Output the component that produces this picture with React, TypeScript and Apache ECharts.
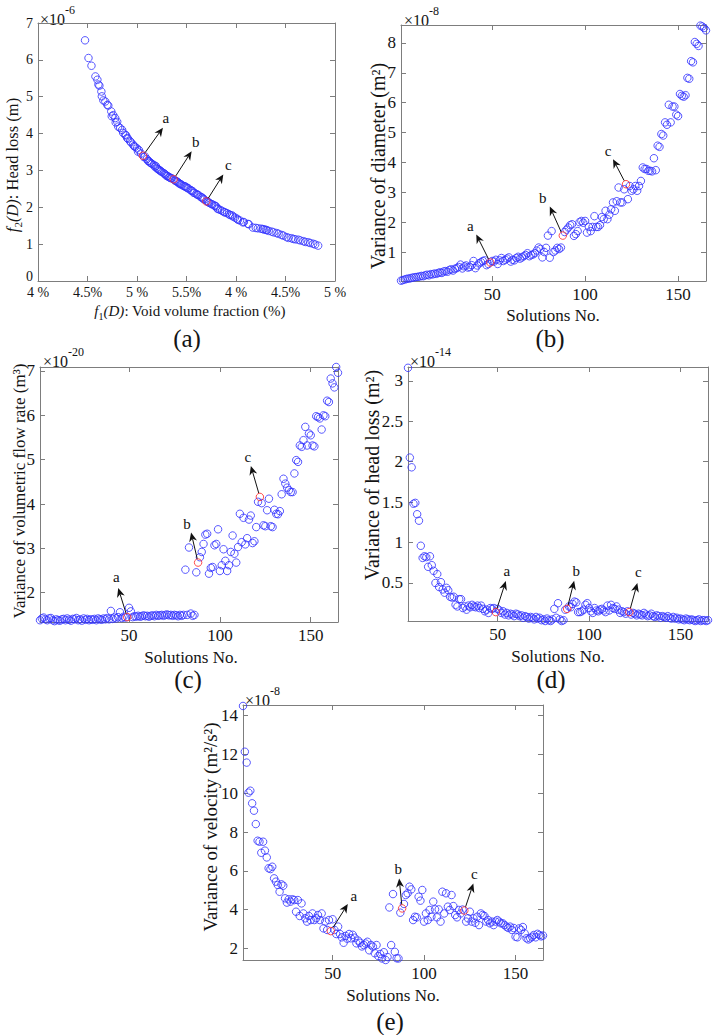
import React, { useEffect, useRef } from "react";
import * as echarts from "echarts";

// ---------------- DATA ----------------
// Panel (a): Pareto front
const VOID_FRACTION = [
  4.475, 4.51, 4.54, 4.58, 4.6, 4.61, 4.62, 4.64, 4.645, 4.66, 4.68, 4.7, 4.71, 4.74, 4.745, 4.76, 4.78, 4.785, 4.8, 4.81,
  4.83, 4.85, 4.86, 4.88, 4.89, 4.9, 4.91, 4.93, 4.94, 4.96, 4.97, 4.98, 5.0, 5.01, 5.02, 5.04, 5.06, 5.07, 5.08, 5.1,
  5.11, 5.12, 5.13, 5.14, 5.15, 5.17, 5.18, 5.19, 5.2, 5.21, 5.22, 5.23, 5.24, 5.25, 5.27, 5.28, 5.29, 5.3, 5.31, 5.32,
  5.33, 5.34, 5.35, 5.37, 5.38, 5.39, 5.4, 5.41, 5.42, 5.43, 5.44, 5.45, 5.47, 5.48, 5.49, 5.5, 5.51, 5.52, 5.54, 5.55,
  5.56, 5.57, 5.58, 5.6, 5.61, 5.62, 5.64, 5.65, 5.66, 5.67, 5.68, 5.7, 5.71, 5.72, 5.73, 5.75, 5.76, 5.78, 5.79, 5.8,
  5.81, 5.82, 5.84, 5.86, 5.88, 5.89, 5.91, 5.93, 5.94, 5.96, 5.97, 5.99, 6.01, 6.02, 6.04, 6.07, 6.08, 6.12, 6.13, 6.17,
  6.2, 6.22, 6.25, 6.27, 6.28, 6.3, 6.31, 6.33, 6.36, 6.38, 6.41, 6.43, 6.46, 6.48, 6.51, 6.53, 6.56, 6.58, 6.6, 6.63,
  6.65, 6.68, 6.7, 6.73, 6.75, 6.78, 6.8, 6.83,
];
const HEAD_LOSS = [
  6.53, 6.05, 5.84, 5.55, 5.46, 5.33, 5.3, 5.14, 5.01, 4.9, 4.87, 4.78, 4.76, 4.6, 4.47, 4.5, 4.42, 4.3, 4.32, 4.19,
  4.15, 4.1, 4.02, 3.97, 3.95, 3.88, 3.86, 3.79, 3.76, 3.7, 3.66, 3.64, 3.6, 3.51, 3.55, 3.46, 3.4, 3.36, 3.38, 3.31,
  3.26, 3.25, 3.22, 3.2, 3.18, 3.15, 3.1, 3.12, 3.06, 3.04, 3.02, 3.0, 2.98, 2.96, 2.93, 2.9, 2.88, 2.85, 2.85, 2.82,
  2.81, 2.79, 2.79, 2.76, 2.73, 2.72, 2.7, 2.69, 2.66, 2.64, 2.63, 2.61, 2.58, 2.57, 2.56, 2.54, 2.52, 2.51, 2.47, 2.45,
  2.44, 2.4, 2.39, 2.36, 2.34, 2.33, 2.29, 2.27, 2.26, 2.23, 2.21, 2.16, 2.16, 2.14, 2.12, 2.09, 2.08, 2.05, 2.04, 2.02,
  1.97, 1.95, 1.93, 1.9, 1.87, 1.86, 1.84, 1.81, 1.79, 1.78, 1.75, 1.72, 1.69, 1.66, 1.64, 1.59, 1.6, 1.55, 1.54, 1.45,
  1.44, 1.43, 1.42, 1.41, 1.4, 1.39, 1.38, 1.36, 1.34, 1.32, 1.3, 1.28, 1.25, 1.23, 1.19, 1.17, 1.16, 1.14, 1.13, 1.12,
  1.1, 1.08, 1.06, 1.05, 1.03, 1.01, 0.99, 0.96,
];
const MARKED_VOID = [5.06, 5.37, 5.7];
const MARKED_HEAD = [3.4, 2.76, 2.16];
const VOID_TICK_LABELS = ["4 %", "4.5%", "5 %", "5.5%", "4 %", "4.5%", "5 %"];

const MARK_LETTERS = ["a", "b", "c"];
const MARKED_SOLUTIONS = [49, 88, 122];

// Panel (b) x1e-8
const DIAMETER_VAR = [
  0.04, 0.06, 0.08, 0.1, 0.11, 0.12, 0.14, 0.15, 0.16, 0.17,
  0.18, 0.2, 0.19, 0.22, 0.24, 0.22, 0.26, 0.25, 0.28, 0.27,
  0.3, 0.32, 0.3, 0.35, 0.36, 0.34, 0.4, 0.42, 0.38, 0.44,
  0.46, 0.5, 0.58, 0.45, 0.52, 0.55, 0.48, 0.5, 0.56, 0.7,
  0.46, 0.55, 0.62, 0.66, 0.7, 0.72, 0.56, 0.6, 0.65, 0.7,
  0.68, 0.74, 0.6, 0.72, 0.8, 0.7, 0.74, 0.78, 0.82, 0.68,
  0.74, 0.72, 0.8, 0.84, 0.78, 0.82, 0.86, 0.9, 0.96, 0.86,
  0.9, 0.92, 0.96, 1.05, 1.15, 1.1, 0.82, 1.0, 1.14, 1.55,
  0.81, 1.7, 1.0, 1.05, 1.14, 1.1, 1.15, 1.55, 1.67, 1.75,
  1.82, 1.9, 1.93, 1.54, 1.6, 1.7, 2.0, 2.04, 1.98, 2.04,
  1.65, 1.84, 1.7, 1.84, 2.2, 1.84, 1.84, 1.9, 2.17, 2.1,
  2.38, 2.1, 2.25, 2.43, 2.66, 2.38, 2.7, 3.16, 2.66, 2.66,
  3.1, 3.27, 2.77, 3.21, 3.05, 3.1, 3.21, 3.05, 3.21, 3.38,
  3.83, 3.78, 3.78, 3.72, 3.72, 3.7, 4.14, 3.74, 4.56, 4.52,
  4.95, 4.9, 5.34, 5.26, 5.93, 5.34, 5.87, 5.87, 5.6, 5.55,
  6.29, 6.23, 6.2, 6.25, 6.83, 6.8, 7.39, 7.35, 8.03, 7.97,
  7.9, 8.58, 8.55, 8.5, 8.42,
];

// Panel (c) x1e-20
const FLOW_VAR = [
  1.38, 1.42, 1.44, 1.4, 1.38, 1.42, 1.43, 1.38, 1.36, 1.4,
  1.38, 1.37, 1.4, 1.41, 1.38, 1.42, 1.39, 1.37, 1.41, 1.4,
  1.43, 1.38, 1.4, 1.37, 1.42, 1.39, 1.41, 1.38, 1.4, 1.39,
  1.41, 1.38, 1.42, 1.4, 1.39, 1.42, 1.4, 1.43, 1.4, 1.59,
  1.41, 1.44, 1.42, 1.45, 1.56, 1.43, 1.46, 1.44, 1.45, 1.66,
  1.58, 1.45, 1.47, 1.46, 1.48, 1.46, 1.47, 1.49, 1.47, 1.48,
  1.46, 1.48, 1.49, 1.47, 1.5, 1.48, 1.49, 1.5, 1.48, 1.5,
  1.51, 1.49, 1.5, 1.48, 1.5, 1.49, 1.47, 1.5, 1.48, 1.5,
  2.52, 1.5, 3.02, 1.53, 1.48, 1.5, 2.46, 2.68, 2.8, 2.92,
  3.1, 3.31, 3.33, 2.43, 2.56, 2.58, 3.07, 3.1, 3.43, 2.49,
  2.62, 2.98, 2.72, 2.49, 2.62, 2.92, 3.29, 2.88, 2.68, 3.03,
  3.78, 3.14, 3.69, 3.09, 3.23, 3.65, 3.74, 3.12, 3.16, 3.48,
  4.05, 4.16, 4.02, 3.52, 3.5, 3.86, 4.12, 3.5, 3.48, 3.87,
  3.78, 3.77, 3.84, 4.22, 4.57, 4.46, 4.37, 4.31, 4.27, 4.27,
  4.69, 4.99, 4.95, 5.32, 5.29, 5.44, 5.74, 5.32, 5.59, 5.55,
  5.32, 5.3, 5.98, 5.96, 5.93, 5.68, 6.0, 5.98, 6.33, 6.3,
  6.83, 6.72, 6.63, 7.09, 6.96,
];

// Panel (d) x1e-14
const HEADLOSS_VAR = [
  3.16, 2.05, 1.93, 1.48, 1.49, 1.35, 1.27, 0.96, 0.81, 0.83,
  0.82, 0.7, 0.83, 0.72, 0.65, 0.5, 0.61, 0.45, 0.51, 0.42,
  0.38, 0.44, 0.41, 0.33, 0.32, 0.33, 0.23, 0.21, 0.3, 0.3,
  0.19, 0.21, 0.17, 0.22, 0.2, 0.23, 0.21, 0.2, 0.22, 0.19,
  0.22, 0.18, 0.15, 0.17, 0.13, 0.19, 0.18, 0.19, 0.14, 0.18,
  0.16, 0.13, 0.15, 0.11, 0.13, 0.1, 0.12, 0.11, 0.09, 0.12,
  0.11, 0.09, 0.1, 0.07, 0.09, 0.08, 0.06, 0.08, 0.07, 0.05,
  0.08, 0.06, 0.07, 0.04, 0.05, 0.03, 0.06, 0.04, 0.03, 0.05,
  0.18, 0.07, 0.25, 0.05, 0.03, 0.04, 0.17, 0.18, 0.21, 0.2,
  0.24, 0.27, 0.26, 0.14, 0.14, 0.15, 0.17, 0.23, 0.25, 0.19,
  0.15, 0.13, 0.19, 0.16, 0.15, 0.17, 0.18, 0.16, 0.14, 0.22,
  0.16, 0.23, 0.19, 0.18, 0.21, 0.17, 0.13, 0.15, 0.14, 0.12,
  0.15, 0.14, 0.11, 0.13, 0.12, 0.1, 0.12, 0.11, 0.1, 0.13,
  0.11, 0.09, 0.1, 0.12, 0.09, 0.08, 0.1, 0.09, 0.07, 0.09,
  0.08, 0.07, 0.09, 0.07, 0.06, 0.08, 0.06, 0.07, 0.05, 0.06,
  0.05, 0.04, 0.06, 0.05, 0.04, 0.05, 0.04, 0.03, 0.04, 0.05,
  0.03, 0.04, 0.04, 0.03, 0.04,
];

// Panel (e) x1e-8
const VELOCITY_VAR = [
  14.5, 12.14, 11.58, 10.03, 10.13, 9.48, 9.1, 8.41, 7.55, 7.5,
  6.93, 7.5, 7.04, 6.69, 6.13, 6.09, 6.21, 5.61, 5.44, 5.27,
  4.92, 5.3, 5.23, 4.58, 4.36, 4.53, 4.41, 4.53, 4.49, 3.89,
  4.49, 3.67, 4.32, 3.8, 3.55, 3.38, 3.67, 3.46, 3.8, 3.46,
  3.55, 3.72, 3.46, 3.8, 3.03, 3.38, 2.95, 3.46, 2.89, 3.5,
  2.95, 2.74, 3.12, 2.74, 2.57, 2.29, 2.64, 2.5, 2.74, 2.52,
  2.7, 2.55, 2.26, 2.4, 2.29, 2.1, 2.17, 2.25, 2.34, 1.9,
  2.17, 2.09, 1.75, 2.17, 1.6, 1.71, 1.48, 1.8, 1.4, 1.55,
  4.11, 2.17, 4.8, 1.82, 1.49, 1.48, 3.84, 4.06, 4.29, 4.75,
  4.84, 5.18, 5.04, 3.46, 3.63, 3.6, 4.66, 4.46, 5.01, 3.38,
  3.8, 3.46, 3.98, 3.63, 4.41, 4.01, 3.6, 4.01, 3.38, 4.92,
  3.8, 4.84, 4.15, 3.98, 4.75, 4.18, 3.72, 3.6, 3.98, 3.8,
  4.0, 3.95, 3.38, 3.55, 3.89, 3.38, 3.55, 3.32, 3.63, 3.2,
  3.8, 3.72, 3.67, 3.38, 3.46, 3.29, 3.38, 3.2, 3.38, 3.46,
  3.38, 3.29, 3.29, 3.2, 3.12, 3.05, 3.12, 2.95, 3.05, 2.6,
  2.57, 3.03, 2.95, 3.1, 2.77, 2.52, 2.46, 2.52, 2.6, 2.69,
  2.57, 2.75, 2.69, 2.62, 2.66,
];

// ---------------- STYLE / LAYOUT ----------------
const FONT = "Liberation Serif, Times New Roman, serif";
const AXIS_COLOR = "#7d7d7d";
const TEXT_COLOR = "#141414";
const BLUE = "#2f2fff";
const RED = "#ff2020";

type Panel = {
  grid: { left: number; top: number; width: number; height: number };
  tickFont: number;
  xMargin: number;
  x: { min: number; max: number; step: number; labels?: string[] };
  y: { min: number; max: number; step: number };
  exp: { text: string; x: number; y: number };
  yTitle: { rich: string; x: number; y: number; size: number };
  xTitle: { rich: string; x: number; y: number; size: number };
  sub: { text: string; x: number; y: number };
  arrows: { dx: number; dy: number; lx: number; ly: number }[];
};

const PANELS: Panel[] = [
  {
    grid: { left: 38, top: 23, width: 297, height: 258 },
    tickFont: 14,
    xMargin: 4,
    x: { min: 4, max: 7, step: 0.5, labels: VOID_TICK_LABELS },
    y: { min: 0, max: 7, step: 1 },
    exp: { text: "-6", x: 40, y: 12 },
    yTitle: { rich: "{i|f}{s|2}{i|(D)}{n|: Head loss (m)}", x: 12, y: 165, size: 16.5 },
    xTitle: { rich: "{i|f}{s|1}{i|(D)}{n|: Void volume fraction (%)}", x: 190, y: 311, size: 15 },
    sub: { text: "(a)", x: 187, y: 338 },
    arrows: [
      { dx: 20, dy: -28, lx: 3, ly: -10 },
      { dx: 18, dy: -28, lx: 4, ly: -9 },
      { dx: 17, dy: -27, lx: 5, ly: -9 },
    ],
  },
  {
    grid: { left: 401, top: 25, width: 305, height: 256 },
    tickFont: 17,
    xMargin: 5,
    x: { min: 1, max: 165, step: 50 },
    y: { min: 0.03, max: 8.6, step: 1 },
    exp: { text: "-8", x: 404, y: 13 },
    yTitle: { rich: "{n|Variance of diameter (m²)}", x: 378, y: 166, size: 20 },
    xTitle: { rich: "{n|Solutions No.}", x: 553, y: 315, size: 17 },
    sub: { text: "(b)", x: 550, y: 338 },
    arrows: [
      { dx: -14, dy: -28, lx: -6, ly: -8 },
      { dx: -13, dy: -29, lx: -7, ly: -9 },
      { dx: -13, dy: -25, lx: -5, ly: -8 },
    ],
  },
  {
    grid: { left: 40, top: 367, width: 298, height: 255 },
    tickFont: 17,
    xMargin: 5,
    x: { min: 1, max: 165, step: 50 },
    y: { min: 1.34, max: 7.09, step: 1 },
    exp: { text: "-20", x: 43, y: 354 },
    yTitle: { rich: "{n|Variance of volumetric flow rate (m³)}", x: 19, y: 491, size: 17 },
    xTitle: { rich: "{n|Solutions No.}", x: 191, y: 657, size: 17 },
    sub: { text: "(c)", x: 188, y: 679 },
    arrows: [
      { dx: -9, dy: -29, lx: -2, ly: -11 },
      { dx: -7, dy: -30, lx: -4, ly: -9 },
      { dx: -9, dy: -31, lx: -3, ly: -9 },
    ],
  },
  {
    grid: { left: 408, top: 367, width: 300, height: 254 },
    tickFont: 17,
    xMargin: 5,
    x: { min: 1, max: 165, step: 50 },
    y: { min: 0.03, max: 3.17, step: 0.5 },
    exp: { text: "-14", x: 410, y: 354 },
    yTitle: { rich: "{n|Variance of head loss (m²)}", x: 372, y: 475, size: 20 },
    xTitle: { rich: "{n|Solutions No.}", x: 558, y: 656, size: 17 },
    sub: { text: "(d)", x: 551, y: 679 },
    arrows: [
      { dx: 10, dy: -31, lx: 1, ly: -10 },
      { dx: 7, dy: -28, lx: 2, ly: -10 },
      { dx: 8, dy: -29, lx: 1, ly: -11 },
    ],
  },
  {
    grid: { left: 243, top: 705, width: 300, height: 255 },
    tickFont: 17,
    xMargin: 5,
    x: { min: 1, max: 165, step: 50 },
    y: { min: 1.4, max: 14.55, step: 2 },
    exp: { text: "-8", x: 245, y: 693 },
    yTitle: { rich: "{n|Variance of velocity (m²/s²)}", x: 210, y: 827, size: 19 },
    xTitle: { rich: "{n|Solutions No.}", x: 393, y: 995, size: 17 },
    sub: { text: "(e)", x: 390, y: 1021 },
    arrows: [
      { dx: 17, dy: -27, lx: 6, ly: -8 },
      { dx: -3, dy: -30, lx: -1, ly: -9 },
      { dx: 9, dy: -27, lx: 1, ly: -10 },
    ],
  },
];

const SOLUTION_SERIES = [DIAMETER_VAR, FLOW_VAR, HEADLOSS_VAR, VELOCITY_VAR];

function isMultiple(v: number, step: number) {
  const r = v / step;
  return Math.abs(r - Math.round(r)) < 1e-6;
}

function fmtNum(v: number) {
  return String(parseFloat(v.toFixed(4)));
}

function buildOption() {
  const grid: any[] = [];
  const xAxis: any[] = [];
  const yAxis: any[] = [];
  const series: any[] = [];

  PANELS.forEach((p, k) => {
    grid.push({ ...p.grid, containLabel: false });
    const line = { show: true, onZero: false, lineStyle: { color: AXIS_COLOR, width: 1 } };
    const tick = { show: true, inside: true, length: 5, lineStyle: { color: AXIS_COLOR, width: 1 } };
    const xScale: any =
      k === 0
        ? { min: p.x.min, max: p.x.max, interval: p.x.step }
        : { min: p.x.min, max: p.x.max, minInterval: p.x.step, maxInterval: p.x.step };
    const yScale: any =
      k === 0
        ? { min: p.y.min, max: p.y.max, interval: p.y.step }
        : { min: p.y.min, max: p.y.max, minInterval: p.y.step, maxInterval: p.y.step };
    const labelBase = { color: TEXT_COLOR, fontFamily: FONT, fontSize: p.tickFont };
    xAxis.push({
      type: "value",
      gridIndex: k,
      position: "bottom",
      ...xScale,
      axisLine: line,
      axisTick: tick,
      splitLine: { show: false },
      axisLabel: {
        ...labelBase,
        margin: p.xMargin,
        showMinLabel: true,
        showMaxLabel: true,
        formatter: (v: number) => {
          if (p.x.labels) {
            if (!isMultiple(v - p.x.min, p.x.step)) return "";
            return p.x.labels[Math.round((v - p.x.min) / p.x.step)] ?? "";
          }
          return isMultiple(v, p.x.step) ? fmtNum(v) : "";
        },
      },
    });
    xAxis.push({
      type: "value",
      gridIndex: k,
      position: "top",
      ...xScale,
      axisLine: line,
      axisTick: tick,
      splitLine: { show: false },
      axisLabel: { show: false },
    });
    yAxis.push({
      type: "value",
      gridIndex: k,
      position: "left",
      ...yScale,
      axisLine: line,
      axisTick: tick,
      splitLine: { show: false },
      axisLabel: {
        ...labelBase,
        margin: 5,
        showMinLabel: true,
        showMaxLabel: true,
        rich: {
          low: { fontFamily: FONT, fontSize: p.tickFont, color: TEXT_COLOR, padding: [0, 0, 9, 0] },
        },
        formatter: (v: number) => {
          if (!isMultiple(v, p.y.step)) return "";
          // the corner label sits a little higher so it clears the x-axis labels
          if (k === 0 && v === p.y.min) return "{low|" + fmtNum(v) + "}";
          return fmtNum(v);
        },
      },
    });
    yAxis.push({
      type: "value",
      gridIndex: k,
      position: "right",
      ...yScale,
      axisLine: line,
      axisTick: tick,
      splitLine: { show: false },
      axisLabel: { show: false },
    });

    let blue: number[][];
    let red: number[][];
    if (k === 0) {
      blue = VOID_FRACTION.map((v, i) => [v, HEAD_LOSS[i]]).filter(
        (pt) => !MARKED_VOID.some((m, j) => m === pt[0] && MARKED_HEAD[j] === pt[1])
      );
      red = MARKED_VOID.map((v, i) => [v, MARKED_HEAD[i]]);
    } else {
      const vals = SOLUTION_SERIES[k - 1];
      blue = vals.map((v, i) => [i + 1, v]).filter((pt) => !MARKED_SOLUTIONS.includes(pt[0]));
      red = MARKED_SOLUTIONS.map((s) => [s, vals[s - 1]]);
    }
    const common = {
      type: "scatter",
      xAxisIndex: 2 * k,
      yAxisIndex: 2 * k,
      symbol: "circle",
      symbolSize: 7.5,
      clip: false,
      silent: true,
    };
    series.push({
      ...common,
      data: blue,
      itemStyle: { color: "rgba(0,0,0,0)", borderColor: BLUE, borderWidth: 1 },
    });
    series.push({
      ...common,
      data: red,
      z: 3,
      itemStyle: { color: "rgba(0,0,0,0)", borderColor: RED, borderWidth: 1 },
    });
  });

  return {
    animation: false,
    backgroundColor: "#ffffff",
    textStyle: { fontFamily: FONT },
    grid,
    xAxis,
    yAxis,
    series,
  };
}

function arrowElements(start: number[], a: { dx: number; dy: number; lx: number; ly: number }, letter: string) {
  const len = Math.hypot(a.dx, a.dy);
  const ux = a.dx / len;
  const uy = a.dy / len;
  const r = 4;
  const sx = start[0] + ux * r;
  const sy = start[1] + uy * r;
  const tx = start[0] + a.dx;
  const ty = start[1] + a.dy;
  const headLen = 9;
  const headW = 4;
  const bx = tx - ux * headLen;
  const by = ty - uy * headLen;
  const nx = tx - ux * headLen * 0.7;
  const ny = ty - uy * headLen * 0.7;
  const px = -uy;
  const py = ux;
  return [
    {
      type: "line",
      shape: { x1: sx, y1: sy, x2: nx, y2: ny },
      style: { stroke: "#111", lineWidth: 1 },
      z: 10,
    },
    {
      type: "polygon",
      shape: {
        points: [
          [tx, ty],
          [bx + px * headW, by + py * headW],
          [nx, ny],
          [bx - px * headW, by - py * headW],
        ],
      },
      style: { fill: "#111" },
      z: 10,
    },
    {
      type: "text",
      x: tx + a.lx,
      y: ty + a.ly,
      style: {
        text: letter,
        fontFamily: FONT,
        fontSize: 15,
        fill: "#111",
        align: "center",
        verticalAlign: "middle",
      },
      z: 10,
    },
  ];
}

function titleRich(size: number) {
  return {
    i: { fontFamily: FONT, fontSize: size, fontStyle: "italic", lineHeight: size, verticalAlign: "top", fill: TEXT_COLOR },
    n: { fontFamily: FONT, fontSize: size, lineHeight: size, verticalAlign: "top", fill: TEXT_COLOR },
    s: {
      fontFamily: FONT,
      fontSize: Math.round(size * 0.68),
      lineHeight: Math.round(size * 0.68),
      verticalAlign: "top",
      padding: [Math.round(size * 0.55), 0, 0, 0],
      fill: TEXT_COLOR,
    },
  };
}

function staticGraphics() {
  const els: any[] = [];
  PANELS.forEach((p) => {
    els.push({
      type: "text",
      x: p.exp.x,
      y: p.exp.y,
      style: {
        text: "{m|×10}{e|" + p.exp.text + "}",
        align: "left",
        verticalAlign: "middle",
        rich: {
          m: { fontFamily: FONT, fontSize: 16, lineHeight: 16, padding: [7, 0, 0, 0], verticalAlign: "top", fill: TEXT_COLOR },
          e: { fontFamily: FONT, fontSize: 12, lineHeight: 12, verticalAlign: "top", fill: TEXT_COLOR },
        },
      },
    });
    els.push({
      type: "text",
      x: p.yTitle.x,
      y: p.yTitle.y,
      rotation: Math.PI / 2,
      style: {
        text: p.yTitle.rich,
        align: "center",
        verticalAlign: "middle",
        rich: titleRich(p.yTitle.size),
      },
    });
    els.push({
      type: "text",
      x: p.xTitle.x,
      y: p.xTitle.y,
      style: {
        text: p.xTitle.rich,
        align: "center",
        verticalAlign: "middle",
        rich: titleRich(p.xTitle.size),
      },
    });
    els.push({
      type: "text",
      x: p.sub.x,
      y: p.sub.y,
      style: {
        text: p.sub.text,
        fontFamily: FONT,
        fontSize: 25,
        fill: TEXT_COLOR,
        align: "center",
        verticalAlign: "middle",
      },
    });
  });
  return els;
}

export default function App() {
  const ref = useRef<HTMLDivElement | null>(null);

  useEffect(() => {
    if (!ref.current) return;
    const chart = echarts.init(ref.current, null, { renderer: "svg" });
    chart.setOption(buildOption() as any);

    const els: any[] = staticGraphics();
    PANELS.forEach((p, k) => {
      const redPoints =
        k === 0
          ? MARKED_VOID.map((v, i) => [v, MARKED_HEAD[i]])
          : MARKED_SOLUTIONS.map((s) => [s, SOLUTION_SERIES[k - 1][s - 1]]);
      redPoints.forEach((pt, j) => {
        const pix = chart.convertToPixel({ seriesIndex: 2 * k + 1 } as any, pt) as number[];
        if (pix) els.push(...arrowElements(pix, p.arrows[j], MARK_LETTERS[j]));
      });
    });
    chart.setOption({ graphic: { elements: els } } as any);

    return () => {
      chart.dispose();
    };
  }, []);

  return (
    <div
      ref={ref}
      style={{ position: "absolute", left: 0, top: 0, width: 717, height: 1035, background: "#ffffff" }}
    />
  );
}
